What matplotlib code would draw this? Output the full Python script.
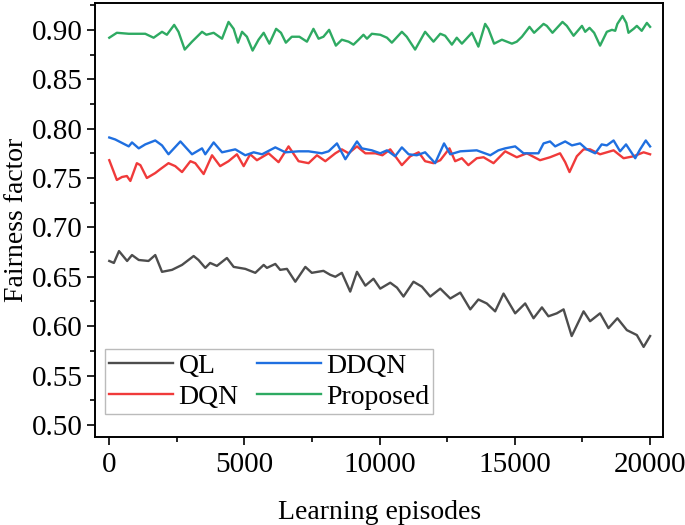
import numpy as np
import matplotlib
matplotlib.use("Agg")
import matplotlib.pyplot as plt
from matplotlib.ticker import MultipleLocator

plt.rcParams['font.family'] = ['Liberation Serif', 'DejaVu Serif']
plt.rcParams['mathtext.fontset'] = 'stix'

# values
ql_x = [0, 170, 360, 660, 840, 1090, 1450, 1700, 1950, 2320, 2690, 3120, 3300, 3550,
        3730, 3980, 4350, 4600, 5030, 5400, 5710, 5830, 6140, 6320, 6570, 6880, 7250,
        7490, 7920, 8170, 8360, 8600, 8910, 9160, 9470, 9770, 10020, 10390, 10640,
        10880, 11250, 11560, 11870, 12240, 12610, 12980, 13350, 13650, 13960, 14270,
        14580, 15010, 15380, 15690, 16000, 16240, 16550, 16800, 17100, 17540, 17780,
        18150, 18460, 18790, 19140, 19510, 19760, 20000]
ql_y = [0.666, 0.664, 0.676, 0.666, 0.672, 0.667, 0.666, 0.672, 0.655, 0.657, 0.662,
        0.671, 0.667, 0.659, 0.664, 0.661, 0.669, 0.660, 0.658, 0.654, 0.662, 0.659,
        0.663, 0.657, 0.658, 0.645, 0.660, 0.654, 0.656, 0.652, 0.650, 0.654, 0.635,
        0.655, 0.641, 0.648, 0.638, 0.644, 0.639, 0.630, 0.645, 0.640, 0.630, 0.638,
        0.628, 0.634, 0.617, 0.627, 0.623, 0.615, 0.633, 0.613, 0.623, 0.608, 0.619,
        0.610, 0.613, 0.617, 0.590, 0.615, 0.605, 0.613, 0.598, 0.608, 0.596, 0.591,
        0.579, 0.590]

dqn_x = [0, 280, 470, 650, 780, 1020, 1150, 1390, 1700, 1890, 2190, 2440, 2690, 3000,
         3180, 3490, 3800, 4100, 4410, 4720, 4970, 5210, 5460, 5890, 6260, 6630, 7000,
         7370, 7680, 7990, 8360, 8600, 8850, 9160, 9470, 9840, 10100, 10390, 10820,
         11130, 11440, 11680, 11990, 12240, 12580, 12790, 13040, 13280, 13590, 13840,
         14210, 14640, 15070, 15440, 15930, 16300, 16670, 16860, 17020, 17290, 17540,
         17780, 18150, 18650, 19020, 19390, 19760, 20000]
dqn_y = [0.768, 0.748, 0.751, 0.752, 0.747, 0.765, 0.763, 0.750, 0.755, 0.759, 0.765,
         0.762, 0.756, 0.767, 0.765, 0.754, 0.773, 0.762, 0.767, 0.774, 0.762, 0.774,
         0.768, 0.775, 0.766, 0.782, 0.767, 0.765, 0.773, 0.767, 0.775, 0.779, 0.775,
         0.782, 0.775, 0.775, 0.773, 0.779, 0.763, 0.772, 0.776, 0.767, 0.765, 0.768,
         0.780, 0.767, 0.770, 0.763, 0.770, 0.771, 0.765, 0.777, 0.771, 0.775, 0.768,
         0.771, 0.775, 0.766, 0.756, 0.772, 0.779, 0.779, 0.774, 0.778, 0.770, 0.772,
         0.776, 0.774]

ddqn_x = [0, 220, 720, 840, 1090, 1330, 1700, 1950, 2190, 2630, 3060, 3430, 3550, 3860,
          4170, 4660, 5030, 5340, 5650, 6140, 6510, 7000, 7370, 7860, 8110, 8420, 8730,
          8970, 9160, 9340, 9710, 10020, 10270, 10570, 10820, 11070, 11370, 11680,
          12050, 12380, 12610, 12980, 13590, 14090, 14390, 14640, 15010, 15320, 15870,
          16060, 16300, 16490, 16860, 17110, 17410, 17660, 17970, 18210, 18400, 18650,
          18890, 19110, 19450, 19630, 19840, 20000]
ddqn_y = [0.791, 0.789, 0.782, 0.786, 0.780, 0.784, 0.788, 0.783, 0.774, 0.787, 0.774,
          0.780, 0.774, 0.786, 0.776, 0.779, 0.773, 0.776, 0.774, 0.781, 0.776, 0.777,
          0.777, 0.775, 0.777, 0.785, 0.769, 0.779, 0.787, 0.780, 0.778, 0.775, 0.778,
          0.772, 0.781, 0.774, 0.773, 0.776, 0.765, 0.785, 0.774, 0.777, 0.778, 0.773,
          0.778, 0.780, 0.782, 0.775, 0.775, 0.785, 0.787, 0.782, 0.787, 0.783, 0.785,
          0.779, 0.775, 0.784, 0.783, 0.788, 0.777, 0.784, 0.770, 0.779, 0.788, 0.782]

prop_x = [0, 280, 720, 1330, 1640, 1950, 2130, 2400, 2560, 2790, 3060, 3430, 3590,
          3860, 4170, 4410, 4600, 4760, 4910, 5090, 5300, 5520, 5710, 5920, 6170, 6350,
          6530, 6750, 7030, 7310, 7550, 7740, 7920, 8130, 8380, 8600, 8850, 9030, 9220,
          9400, 9530, 9710, 10020, 10270, 10450, 10820, 11000, 11310, 11680, 11990,
          12240, 12420, 12670, 12850, 13040, 13410, 13650, 13900, 14020, 14230, 14520,
          14890, 15070, 15260, 15540, 15710, 16060, 16180, 16390, 16760, 16920, 17170,
          17480, 17600, 17760, 17930, 18150, 18400, 18590, 18710, 18790, 18980, 19120,
          19200, 19390, 19510, 19690, 19880, 20000]
prop_y = [0.892, 0.897, 0.896, 0.896, 0.892, 0.898, 0.895, 0.905, 0.898, 0.880, 0.888,
          0.898, 0.895, 0.897, 0.891, 0.908, 0.901, 0.887, 0.898, 0.893, 0.879, 0.890,
          0.897, 0.886, 0.901, 0.897, 0.887, 0.893, 0.893, 0.888, 0.901, 0.891, 0.893,
          0.900, 0.884, 0.890, 0.888, 0.885, 0.890, 0.895, 0.891, 0.896, 0.895, 0.892,
          0.887, 0.898, 0.893, 0.880, 0.898, 0.888, 0.896, 0.894, 0.885, 0.892, 0.886,
          0.897, 0.883, 0.906, 0.901, 0.886, 0.890, 0.886, 0.888, 0.893, 0.903, 0.897,
          0.906, 0.904, 0.897, 0.908, 0.904, 0.894, 0.904, 0.898, 0.902, 0.897, 0.884,
          0.898, 0.900, 0.899, 0.906, 0.914, 0.907, 0.897, 0.901, 0.904, 0.899, 0.907,
          0.903]

fig = plt.figure(figsize=(6.85, 5.25), dpi=100)
ax = fig.add_axes([0.139, 0.168, 0.829, 0.826])

ax.plot(ql_x, ql_y, color='#4d4d4d', lw=1.7, label='QL')
ax.plot(dqn_x, dqn_y, color='#f03a3a', lw=1.7, label='DQN')
ax.plot(ddqn_x, ddqn_y, color='#1f6fe0', lw=1.7, label='DDQN')
ax.plot(prop_x, prop_y, color='#2eaa62', lw=1.7, label='Proposed')

ax.set_xlim(-520, 20480)
ax.set_ylim(0.488, 0.927)
ax.xaxis.set_major_locator(MultipleLocator(5000))
ax.xaxis.set_minor_locator(MultipleLocator(2500))
ax.yaxis.set_major_locator(MultipleLocator(0.05))
ax.yaxis.set_minor_locator(MultipleLocator(0.025))
ax.yaxis.set_major_formatter(plt.FuncFormatter(lambda v, p: f'{v:.2f}'))

ax.tick_params(which='both', direction='out', top=False, right=False,
               labelsize=21, width=1.2)
ax.tick_params(which='major', length=6)
ax.tick_params(which='minor', length=3.5)
ax.tick_params(axis='x', pad=5)
ax.tick_params(axis='y', pad=3)
for s in ax.spines.values():
    s.set_linewidth(1.4)

ax.set_xlabel('Learning episodes', fontsize=20, labelpad=16)
ax.set_ylabel('Fairness factor', fontsize=20, labelpad=2)

# QL, DQN in first column, DDQN, Proposed in second
h, l = ax.get_legend_handles_labels()
leg = ax.legend(h, l, ncol=2, loc='lower left', bbox_to_anchor=(0.017, 0.053),
                fontsize=20, frameon=True, fancybox=False, edgecolor='#aaaaaa',
                handlelength=2.3, labelspacing=0.2, columnspacing=0.65,
                handletextpad=0.2, borderpad=0.15, borderaxespad=0)
leg.get_frame().set_linewidth(1.0)

fig.savefig('out.png', dpi=100)
